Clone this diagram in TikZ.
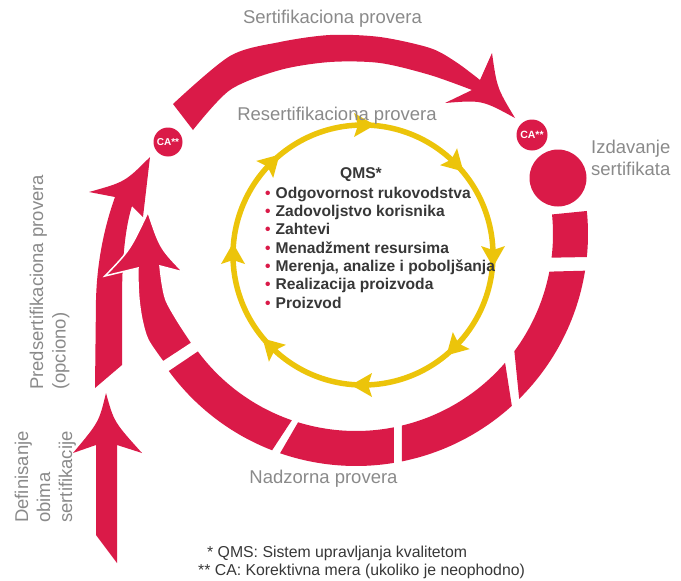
\documentclass[tikz,border=0pt]{standalone}
\usepackage{fontspec}
\setmainfont{Liberation Sans}
\definecolor{ringred}{RGB}{218,26,72}
\definecolor{ringyel}{RGB}{236,196,10}
\definecolor{lblgray}{RGB}{138,138,138}
\definecolor{txtdark}{RGB}{55,55,55}
\newcommand{\ringseg}[4]{%
  \fill[ringred] plot[domain=#1:#2,samples=30] (\x:232) -- plot[domain=0:1,samples=30] ({#4+(#3-#4)*\x}:197) -- cycle;}
\begin{document}
\begin{tikzpicture}[x=1pt,y=-1pt,
  lbl/.style={font=\fontsize{18.5}{22}\selectfont, text=lblgray, inner sep=0pt},
  listtxt/.style={font=\fontsize{15.6}{18}\selectfont\bfseries, text=txtdark, inner sep=0pt, anchor=base west},
  foot/.style={font=\fontsize{15.8}{18}\selectfont, text=txtdark, inner sep=0pt, anchor=base west},
  ca/.style={circle, fill=ringred, text=white, inner sep=0pt},
  yelhead/.style={fill=ringyel},
]
\useasboundingbox (0,0) rectangle (681,581);

% top arc: Sertifikaciona provera
\fill[ringred] plot[smooth] coordinates {(173,104) (230,56) (280,42) (330,35) (380,37) (430,48) (456,62) (480,80)}
  -- (492,53) .. controls (497,88) .. (515,118) .. controls (482,100) .. (445,103) -- (472,90)
  -- plot[smooth] coordinates {(472,90) (430,75) (380,63) (330,62) (280,70) (230,90) (193,130)} -- cycle;

% ring segments
\begin{scope}[shift={(356,234)}]
  \ringseg{-5.7}{5.7}{-5.7}{6.9}
  \ringseg{9.1}{45.3}{11}{36.5}
  \ringseg{47.8}{78.6}{40.8}{76.5}
  \ringseg{80.6}{109.1}{78.9}{107.1}
  \ringseg{111.2}{143.8}{109}{143.4}
\end{scope}

% pre-certification arrow
\fill[ringred] (95,388) -- (122,365) -- (122,300) .. controls (122,255) and (126,225) .. (132,206)
  -- (143,217) -- (150,157) .. controls (125,182) .. (89,192) -- (115,197)
  .. controls (105,225) and (97,260) .. (96,300) -- cycle;

% last ring segment ending in arrowhead
\fill[ringred, draw=white, line width=1.5pt] plot[smooth] coordinates {(163,362) (148,340) (142,320) (139,300) (138,282) (138,268)}
  -- (105,276) .. controls (130,250) .. (148,212) .. controls (160,248) .. (183,272) -- (160,266)
  -- plot[smooth] coordinates {(160,266) (162,282) (166,300) (177,320) (192,343)} -- cycle;

% scope definition arrow
\fill[ringred] (96,535) -- (96,445) -- (73,453) .. controls (99,422) .. (106,393)
  .. controls (114,422) .. (142,453) -- (117,445) -- (117,563) -- cycle;

% circles
\node[ca, minimum size=29pt, font=\fontsize{10}{10}\selectfont\bfseries] (caleft) at (168,142) {CA**};
\node[ca, minimum size=31pt, font=\fontsize{10.5}{10.5}\selectfont\bfseries] (caright) at (532,135) {CA**};
\node[circle, fill=ringred, minimum size=57pt, inner sep=0pt] (issue) at (558,178) {};

% yellow cycle
\draw[ringyel, line width=5.5pt] (363,255) circle[radius=130pt];
\foreach \a in {-90,-45,0,45,90,135,180,225} {
  \begin{scope}[shift={(363,255)}, rotate={-(\a)}]
    \fill[yelhead] (130,12) -- (142,-9) -- (130,-5) -- (118,-9) -- cycle;
  \end{scope}
}

% labels
\node[lbl, anchor=base] (sert) at (332.5,23) {Sertifikaciona provera};
\node[lbl, anchor=base] (resert) at (337,120) {Resertifikaciona provera};
\node[lbl, anchor=base west] (izd1) at (591,153) {Izdavanje};
\node[lbl, anchor=base west] (izd2) at (591,175) {sertifikata};
\node[lbl, anchor=base] (nadz) at (323.5,483) {Nadzorna provera};
\node[lbl, rotate=90, anchor=base west] (pre1) at (43,390) {Predsertifikaciona provera};
\node[lbl, rotate=90, anchor=base west] (pre2) at (65.5,390) {(opciono)};
\node[lbl, rotate=90, anchor=base west] (def1) at (28,523) {Definisanje};
\node[lbl, rotate=90, anchor=base west] (def2) at (50,523) {obima};
\node[lbl, rotate=90, anchor=base west] (def3) at (72,523) {sertifikacije};

% QMS list
\node[font=\fontsize{15.6}{18}\selectfont\bfseries, text=txtdark, inner sep=0pt, anchor=base] (qms) at (361,178) {QMS*};
\node[listtxt] (l1) at (265,198) {\textcolor{ringred}{•}\hspace{5pt}Odgovornost rukovodstva};
\node[listtxt] (l2) at (265,216.3) {\textcolor{ringred}{•}\hspace{5pt}Zadovoljstvo korisnika};
\node[listtxt] (l3) at (265,234.7) {\textcolor{ringred}{•}\hspace{5pt}Zahtevi};
\node[listtxt] (l4) at (265,253) {\textcolor{ringred}{•}\hspace{5pt}Menadžment resursima};
\node[listtxt] (l5) at (265,271.3) {\textcolor{ringred}{•}\hspace{5pt}Merenja, analize i poboljšanja};
\node[listtxt] (l6) at (265,289.7) {\textcolor{ringred}{•}\hspace{5pt}Realizacija proizvoda};
\node[listtxt] (l7) at (265,308) {\textcolor{ringred}{•}\hspace{5pt}Proizvod};

% footnotes
\node[foot] (fn1) at (207,557) {* QMS: Sistem upravljanja kvalitetom};
\node[foot] (fn2) at (198,575) {** CA: Korektivna mera (ukoliko je neophodno)};
\end{tikzpicture}
\end{document}
